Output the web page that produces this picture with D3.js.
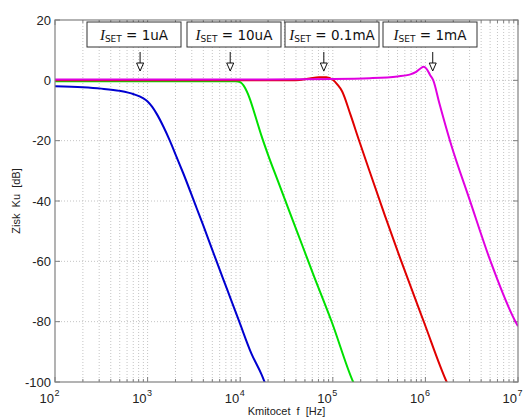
<!DOCTYPE html>
<html>
<head>
<meta charset="utf-8">
<script src="https://cdn.jsdelivr.net/npm/d3@7"></script>
<style>
  body { margin: 0; background: #fff; }
  svg { display: block; font-family: Arial, "Liberation Sans", sans-serif; }
</style>
</head>
<body>
<svg width="525" height="419"></svg>
<script>
// frequency given as log10(f), gain in dB
const blueF  = [2.0, 2.3, 2.5, 2.7, 2.85, 2.95, 3.0, 3.05, 3.1, 3.17, 3.24, 3.31, 3.385, 3.53, 3.6, 3.73, 3.86, 3.99, 4.12, 4.23, 4.27];
const blueG  = [-2.0, -2.3, -2.75, -3.5, -4.6, -5.9, -7.0, -8.8, -11.2, -15.3, -20.0, -25.2, -30.8, -42.4, -48, -58.8, -69.4, -80, -90.5, -97.5, -100.5];
const greenF = [2.0, 3.5, 3.95, 4.0, 4.05, 4.1, 4.16, 4.23, 4.3, 4.41, 4.61, 4.79, 4.99, 5.22, 5.25];
const greenG = [-0.3, -0.3, -0.3, -0.6, -2.4, -5.8, -11.5, -18.4, -24.6, -33.6, -49.8, -64.4, -80.2, -100, -102];
const redF   = [2.0, 4.6, 4.75, 4.85, 4.93, 5.0, 5.05, 5.1, 5.19, 5.28, 5.4, 5.56, 5.73, 5.985, 6.23, 6.26];
const redG   = [0.0, 0.0, 0.6, 1.0, 1.0, 0.2, -1.4, -3.6, -11.3, -19.6, -30.4, -44.6, -59.2, -80.2, -100, -102];
const magF   = [2.0, 4.0, 5.0, 5.4, 5.7, 5.83, 5.9, 5.95, 5.98, 6.01, 6.05, 6.085, 6.15, 6.27, 6.48, 6.7, 6.985, 7.0];
const magG   = [0.3, 0.3, 0.45, 0.7, 1.3, 1.9, 2.8, 4.0, 4.5, 3.9, 1.8, 0.0, -7.5, -20.5, -39.8, -59.7, -80.7, -81.5];

const series = [
  { f: blueF, g: blueG, color: "#0000d0" },
  { f: greenF, g: greenG, color: "#00e000" },
  { f: redF, g: redG, color: "#e00000" },
  { f: magF, g: magG, color: "#e000e0" }
];

const labels = ["1uA", "10uA", "0.1mA", "1mA"];
const arrowFreq = [830, 7800, 80000, 1.2e6];
const boxLeft = [87, 187, 285, 383];

const yTicks = [20, 0, -20, -40, -60, -80, -100];
const xDecades = [2, 3, 4, 5, 6, 7];

const svg = d3.select("svg");
const margin = { top: 20, left: 55 };
const innerWidth = 463;
const innerHeight = 362;

const x = d3.scaleLog().domain([1e2, 1e7]).range([0, innerWidth]);
const y = d3.scaleLinear().domain([-100, 20]).range([innerHeight, 0]);

const g = svg.append("g").attr("transform", `translate(${margin.left},${margin.top})`);

svg.append("defs").append("clipPath").attr("id", "plot-clip")
  .append("rect").attr("width", innerWidth).attr("height", innerHeight);

// minor + major x grid
const xGridVals = [];
for (let e = 2; e < 7; e++) {
  for (let m = 1; m < 10; m++) xGridVals.push(m * Math.pow(10, e));
}
xGridVals.push(1e7);

g.selectAll(".xgrid")
  .data(xGridVals.filter(v => v > 1e2 && v < 1e7))
  .enter().append("line")
  .attr("x1", d => x(d)).attr("x2", d => x(d))
  .attr("y1", 0).attr("y2", innerHeight)
  .attr("stroke", "#c4c4c4")
  .attr("stroke-width", 1)
  .attr("stroke-dasharray", "1,2");

g.selectAll(".ygrid")
  .data(yTicks.filter(v => v > -100 && v < 20))
  .enter().append("line")
  .attr("x1", 0).attr("x2", innerWidth)
  .attr("y1", d => y(d)).attr("y2", d => y(d))
  .attr("stroke", "#c4c4c4")
  .attr("stroke-width", 1)
  .attr("stroke-dasharray", "1,2");

// inner tick marks, matlab style
g.selectAll(".ytickL")
  .data(yTicks)
  .enter().append("line")
  .attr("x1", 0).attr("x2", 5)
  .attr("y1", d => y(d)).attr("y2", d => y(d))
  .attr("stroke", "#808080");
g.selectAll(".ytickR")
  .data(yTicks)
  .enter().append("line")
  .attr("x1", innerWidth - 5).attr("x2", innerWidth)
  .attr("y1", d => y(d)).attr("y2", d => y(d))
  .attr("stroke", "#808080");
g.selectAll(".xtickB")
  .data(xGridVals)
  .enter().append("line")
  .attr("x1", d => x(d)).attr("x2", d => x(d))
  .attr("y1", innerHeight).attr("y2", d => innerHeight - (Number.isInteger(Math.log10(d)) ? 5 : 3))
  .attr("stroke", "#808080");
g.selectAll(".xtickT")
  .data(xGridVals)
  .enter().append("line")
  .attr("x1", d => x(d)).attr("x2", d => x(d))
  .attr("y1", 0).attr("y2", d => (Number.isInteger(Math.log10(d)) ? 5 : 3))
  .attr("stroke", "#808080");

// curves
const line = d3.line()
  .x(d => x(Math.pow(10, d[0])))
  .y(d => y(d[1]))
  .curve(d3.curveMonotoneX);

const plot = g.append("g").attr("clip-path", "url(#plot-clip)");
series.forEach(s => {
  plot.append("path")
    .datum(s.f.map((v, i) => [v, s.g[i]]))
    .attr("d", line)
    .attr("fill", "none")
    .attr("stroke", s.color)
    .attr("stroke-width", 2);
});

// frame
g.append("rect")
  .attr("width", innerWidth).attr("height", innerHeight)
  .attr("fill", "none").attr("stroke", "#808080").attr("stroke-width", 1.2);

// y tick labels
g.selectAll(".ylab")
  .data(yTicks)
  .enter().append("text")
  .attr("x", -4)
  .attr("y", d => y(d) + 4.5)
  .attr("text-anchor", "end")
  .attr("font-size", 13)
  .attr("fill", "#222")
  .text(d => d);

// x tick labels 10^n, base and exponent as separate texts
g.selectAll(".xlab")
  .data(xDecades)
  .enter().append("text")
  .attr("x", d => x(Math.pow(10, d)) - 1)
  .attr("y", innerHeight + 21)
  .attr("text-anchor", "end")
  .attr("font-size", 13)
  .attr("fill", "#222")
  .text("10");
g.selectAll(".xexp")
  .data(xDecades)
  .enter().append("text")
  .attr("x", d => x(Math.pow(10, d)) - 0.5)
  .attr("y", innerHeight + 14)
  .attr("text-anchor", "start")
  .attr("font-size", 9)
  .attr("fill", "#222")
  .text(d => d);

// axis titles
svg.append("text")
  .attr("x", margin.left + innerWidth / 2)
  .attr("y", 415)
  .attr("text-anchor", "middle")
  .attr("font-size", 11)
  .attr("fill", "#222")
  .text("Kmitocet\u00a0\u00a0f\u00a0\u00a0[Hz]");

svg.append("text")
  .attr("transform", `translate(20,${margin.top + innerHeight / 2}) rotate(-90)`)
  .attr("text-anchor", "middle")
  .attr("font-size", 11)
  .attr("fill", "#222")
  .text("Zisk\u00a0\u00a0Ku\u00a0\u00a0[dB]");

// annotation boxes with arrows
labels.forEach((lab, i) => {
  const bx = boxLeft[i];
  const box = svg.append("g");
  box.append("rect")
    .attr("x", bx).attr("y", 22)
    .attr("width", 94).attr("height", 25)
    .attr("fill", "#fff").attr("stroke", "#333").attr("stroke-width", 1);
  const t = box.append("text")
    .attr("x", bx + 47).attr("y", 40)
    .attr("text-anchor", "middle")
    .attr("font-family", "'DejaVu Sans', Verdana, sans-serif")
    .attr("font-size", 13.5)
    .attr("fill", "#111");
  t.append("tspan").attr("font-family", "'Liberation Serif', 'DejaVu Serif', serif")
    .attr("font-style", "italic").attr("font-size", 15).text("I");
  t.append("tspan").attr("font-size", 9).attr("dy", 2).text("SET");
  t.append("tspan").attr("dy", -2).text(" = " + lab);

  const ax = margin.left + x(arrowFreq[i]);
  svg.append("line")
    .attr("x1", ax).attr("x2", ax)
    .attr("y1", 52).attr("y2", 64)
    .attr("stroke", "#111").attr("stroke-width", 1);
  svg.append("path")
    .attr("d", `M${ax - 3.5},63 L${ax + 3.5},63 L${ax},71 Z`)
    .attr("fill", "#fff").attr("stroke", "#111").attr("stroke-width", 1);
});
</script>
</body>
</html>
